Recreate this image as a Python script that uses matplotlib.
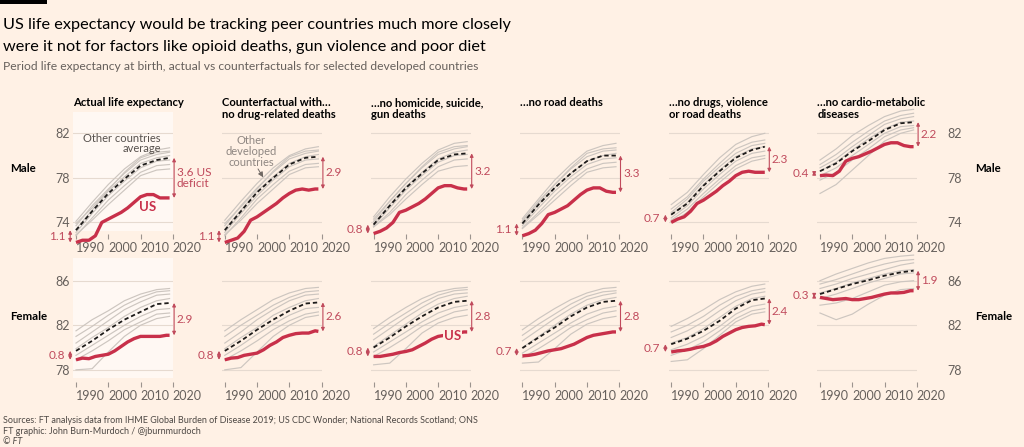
import matplotlib
matplotlib.use('Agg')
import matplotlib.pyplot as plt
from matplotlib.patches import Rectangle

plt.rcParams['font.family'] = ['Lato', 'DejaVu Sans']

# ---------------- data ----------------
YEARS_US = [1990, 1992, 1994, 1996, 1998, 2000, 2002, 2004, 2006, 2008, 2010, 2012, 2014, 2016, 2018, 2019]
YEARS_PEER = [1990, 1995, 2000, 2005, 2010, 2015, 2019]
XTICKS = [1990, 2000, 2010, 2020]

PANEL_TITLES = [
    ["Actual life expectancy"],
    ["Counterfactual with\u2026", "no drug-related deaths"],
    ["\u2026no homicide, suicide,", "gun deaths"],
    ["\u2026no road deaths"],
    ["\u2026no drugs, violence", "or road deaths"],
    ["\u2026no cardio-metabolic", "diseases"],
]
ROW_LABELS = ["Male", "Female"]

us_male = [
    [72.2, 72.4, 72.4, 72.8, 74.0, 74.3, 74.6, 74.9, 75.3, 75.8, 76.3, 76.5, 76.5, 76.2, 76.2, 76.2],
    [72.2, 72.4, 72.6, 73.2, 74.2, 74.5, 74.9, 75.3, 75.7, 76.2, 76.6, 76.9, 77.0, 76.9, 77.0, 77.0],
    [73.0, 73.2, 73.5, 74.0, 74.9, 75.1, 75.4, 75.7, 76.1, 76.6, 77.1, 77.3, 77.3, 77.1, 77.0, 77.0],
    [72.8, 73.0, 73.3, 73.9, 74.7, 74.9, 75.2, 75.5, 76.0, 76.5, 76.9, 77.1, 77.1, 76.8, 76.7, 76.7],
    [74.0, 74.3, 74.5, 75.0, 75.7, 76.0, 76.4, 76.8, 77.3, 77.7, 78.2, 78.5, 78.6, 78.5, 78.5, 78.5],
    [78.2, 78.25, 78.2, 78.6, 79.5, 79.75, 79.9, 80.15, 80.4, 80.7, 81.0, 81.15, 81.15, 80.9, 80.8, 80.8],
]
us_female = [
    [78.9, 79.05, 79.0, 79.2, 79.3, 79.4, 79.7, 80.1, 80.5, 80.8, 81.0, 81.0, 81.0, 81.0, 81.1, 81.1],
    [78.9, 79.05, 79.1, 79.3, 79.4, 79.5, 79.8, 80.2, 80.5, 80.9, 81.1, 81.25, 81.3, 81.3, 81.5, 81.45],
    [79.2, 79.2, 79.3, 79.4, 79.55, 79.65, 79.8, 80.1, 80.4, 80.75, 81.0, 81.1, 81.2, 81.3, 81.4, 81.4],
    [79.25, 79.3, 79.4, 79.55, 79.7, 79.8, 79.9, 80.1, 80.3, 80.6, 80.9, 81.1, 81.2, 81.3, 81.4, 81.4],
    [79.6, 79.7, 79.75, 79.85, 80.0, 80.1, 80.3, 80.6, 81.0, 81.3, 81.6, 81.8, 81.9, 81.95, 82.1, 82.05],
    [84.5, 84.4, 84.3, 84.35, 84.4, 84.3, 84.3, 84.4, 84.5, 84.65, 84.8, 84.9, 84.9, 84.95, 85.1, 85.1],
]

avg_male = [
    [73.3, 75.0, 76.6, 77.9, 79.1, 79.6, 79.8],
    [73.3, 75.0, 76.7, 78.0, 79.2, 79.8, 79.9],
    [73.8, 75.5, 77.1, 78.4, 79.6, 80.1, 80.2],
    [73.9, 75.6, 77.1, 78.4, 79.5, 80.0, 80.0],
    [74.7, 75.7, 77.3, 78.6, 79.8, 80.5, 80.8],
    [78.6, 79.3, 80.4, 81.3, 82.3, 82.9, 83.0],
]
avg_female = [
    [79.7, 80.6, 81.6, 82.5, 83.2, 83.9, 84.0],
    [79.7, 80.6, 81.6, 82.5, 83.3, 83.95, 84.05],
    [80.0, 80.9, 81.9, 82.8, 83.6, 84.1, 84.2],
    [79.95, 80.9, 81.8, 82.8, 83.6, 84.1, 84.2],
    [80.3, 80.8, 81.5, 82.4, 83.5, 84.25, 84.4],
    [84.8, 85.25, 85.7, 86.05, 86.45, 86.75, 86.9],
]

peers_male_1 = [
    [74.1, 75.8, 77.4, 78.8, 79.9, 80.5, 80.7],
    [73.9, 75.3, 76.9, 78.5, 79.8, 80.3, 80.4],
    [73.7, 75.5, 77.0, 78.4, 79.6, 80.1, 80.3],
    [73.4, 75.1, 76.8, 78.1, 79.3, 79.8, 80.0],
    [73.1, 74.8, 76.4, 77.7, 78.9, 79.5, 79.6],
    [72.8, 74.4, 76.0, 77.3, 78.5, 79.1, 79.2],
    [72.9, 74.2, 75.6, 76.9, 78.2, 78.7, 78.8],
]
peers_male_2 = [
    [74.2, 75.9, 77.5, 78.9, 80.0, 80.6, 80.8],
    [73.9, 75.4, 77.0, 78.6, 79.9, 80.4, 80.5],
    [73.7, 75.5, 77.1, 78.5, 79.7, 80.2, 80.4],
    [73.4, 75.1, 76.8, 78.1, 79.3, 79.9, 80.1],
    [73.1, 74.8, 76.4, 77.8, 79.0, 79.6, 79.7],
    [72.8, 74.4, 76.1, 77.4, 78.6, 79.2, 79.3],
    [72.9, 74.2, 75.7, 77.0, 78.3, 78.9, 79.0],
]
peers_male_3 = [
    [74.5, 76.3, 77.9, 79.3, 80.5, 81.1, 81.25],
    [74.3, 75.9, 77.5, 79.0, 80.3, 80.8, 80.9],
    [74.1, 75.9, 77.5, 78.9, 80.1, 80.6, 80.8],
    [73.9, 75.6, 77.2, 78.5, 79.7, 80.3, 80.5],
    [73.7, 75.3, 76.9, 78.2, 79.4, 80.0, 80.1],
    [73.6, 74.9, 76.5, 77.8, 79.0, 79.6, 79.7],
    [73.6, 74.7, 76.1, 77.4, 78.6, 79.0, 79.1],
]
peers_male_4 = [
    [74.35, 76.1, 77.8, 79.2, 80.4, 80.9, 81.1],
    [74.2, 75.8, 77.4, 78.9, 80.2, 80.6, 80.7],
    [74.1, 75.9, 77.4, 78.8, 79.9, 80.4, 80.5],
    [73.9, 75.6, 77.1, 78.4, 79.5, 80.0, 80.2],
    [73.7, 75.3, 76.8, 78.1, 79.2, 79.7, 79.8],
    [73.5, 74.9, 76.4, 77.7, 78.8, 79.3, 79.4],
    [73.45, 74.7, 76.0, 77.3, 78.5, 78.9, 79.0],
]
peers_male_5 = [
    [75.6, 76.7, 78.3, 79.8, 81.0, 81.7, 82.0],
    [75.2, 76.3, 77.9, 79.3, 80.6, 81.2, 81.4],
    [74.9, 76.1, 77.7, 79.0, 80.2, 80.9, 81.1],
    [74.7, 75.8, 77.4, 78.7, 79.9, 80.6, 80.8],
    [74.4, 75.5, 77.0, 78.3, 79.5, 80.2, 80.4],
    [74.2, 75.2, 76.6, 77.9, 79.1, 79.8, 80.0],
    [74.0, 74.9, 76.3, 77.6, 78.8, 79.5, 79.75],
]
peers_male_6 = [
    [79.6, 80.6, 81.8, 82.7, 83.5, 84.0, 84.15],
    [79.2, 80.1, 81.2, 82.2, 83.1, 83.6, 83.8],
    [78.9, 79.7, 80.8, 81.8, 82.8, 83.3, 83.5],
    [78.6, 79.4, 80.5, 81.5, 82.4, 83.0, 83.1],
    [78.2, 78.9, 80.0, 81.0, 82.0, 82.6, 82.7],
    [77.8, 78.5, 79.6, 80.6, 81.7, 82.3, 82.5],
    [76.6, 77.4, 78.7, 80.0, 81.3, 82.0, 82.3],
]
peers_female_1 = [
    [81.5, 82.5, 83.3, 84.2, 84.8, 85.2, 85.3],
    [81.0, 81.9, 82.9, 83.8, 84.5, 85.0, 85.1],
    [80.4, 81.4, 82.4, 83.4, 84.1, 84.7, 84.8],
    [79.9, 80.9, 81.8, 82.8, 83.6, 84.2, 84.4],
    [79.3, 80.2, 81.1, 82.0, 82.8, 83.4, 83.5],
    [78.9, 79.7, 80.6, 81.6, 82.3, 83.0, 83.1],
    [78.0, 78.1, 79.6, 81.0, 82.0, 82.6, 82.8],
]
peers_female_2 = [
    [81.5, 82.5, 83.4, 84.3, 84.9, 85.3, 85.4],
    [81.0, 82.0, 82.9, 83.8, 84.5, 85.0, 85.1],
    [80.4, 81.4, 82.5, 83.4, 84.2, 84.7, 84.8],
    [79.9, 80.9, 81.8, 82.9, 83.6, 84.2, 84.4],
    [79.3, 80.2, 81.2, 82.1, 82.9, 83.5, 83.6],
    [78.9, 79.7, 80.6, 81.6, 82.4, 83.0, 83.2],
    [78.0, 78.2, 79.6, 81.0, 82.0, 82.7, 82.9],
]
peers_female_3 = [
    [81.7, 82.7, 83.6, 84.4, 85.0, 85.3, 85.4],
    [81.2, 82.2, 83.1, 84.0, 84.7, 85.1, 85.2],
    [80.7, 81.7, 82.7, 83.6, 84.4, 84.8, 84.9],
    [80.1, 81.1, 82.1, 83.1, 83.9, 84.4, 84.6],
    [79.6, 80.5, 81.4, 82.3, 83.1, 83.6, 83.8],
    [79.2, 80.0, 80.9, 81.9, 82.6, 83.2, 83.4],
    [78.45, 78.6, 79.9, 81.3, 82.2, 82.7, 82.9],
]
peers_female_4 = [
    [81.6, 82.6, 83.5, 84.3, 84.9, 85.3, 85.4],
    [81.1, 82.1, 83.0, 83.9, 84.6, 85.0, 85.1],
    [80.6, 81.6, 82.6, 83.5, 84.3, 84.7, 84.9],
    [80.0, 81.0, 82.0, 83.0, 83.8, 84.3, 84.5],
    [79.5, 80.4, 81.3, 82.2, 83.0, 83.5, 83.7],
    [79.1, 79.9, 80.8, 81.8, 82.5, 83.1, 83.3],
    [78.6, 78.7, 79.9, 81.2, 82.1, 82.6, 82.8],
]
peers_female_5 = [
    [81.9, 82.6, 83.4, 84.3, 85.0, 85.5, 85.7],
    [81.4, 82.0, 82.8, 83.8, 84.6, 85.1, 85.3],
    [80.9, 81.5, 82.3, 83.3, 84.2, 84.8, 85.0],
    [80.4, 80.9, 81.7, 82.7, 83.7, 84.4, 84.6],
    [79.8, 80.3, 81.0, 81.9, 83.0, 83.7, 83.9],
    [79.3, 79.8, 80.5, 81.5, 82.6, 83.3, 83.5],
    [78.75, 78.9, 79.9, 81.1, 82.3, 83.0, 83.2],
]
peers_female_6 = [
    [86.0, 86.6, 87.1, 87.6, 88.0, 88.2, 88.3],
    [85.7, 86.1, 86.6, 87.1, 87.5, 87.8, 87.9],
    [85.3, 85.7, 86.2, 86.6, 87.0, 87.4, 87.6],
    [84.9, 85.3, 85.8, 86.2, 86.6, 86.9, 87.0],
    [84.4, 84.8, 85.3, 85.8, 86.2, 86.6, 86.7],
    [83.8, 84.0, 84.4, 85.0, 85.6, 85.9, 86.0],
    [83.1, 82.5, 83.0, 83.9, 84.7, 85.2, 85.3],
]
peers_male = [peers_male_1, peers_male_2, peers_male_3, peers_male_4, peers_male_5, peers_male_6]
peers_female = [peers_female_1, peers_female_2, peers_female_3, peers_female_4, peers_female_5, peers_female_6]

gap_start_male = ["1.1", "1.1", "0.8", "1.1", "0.7", "0.4"]
gap_end_male = ["3.6 US\ndeficit", "2.9", "3.2", "3.3", "2.3", "2.2"]
gap_start_female = ["0.8", "0.8", "0.8", "0.7", "0.7", "0.3"]
gap_end_female = ["2.9", "2.6", "2.8", "2.8", "2.4", "1.9"]

# ---------------- style ----------------
BG = '#fff1e5'
HL = '#fff8f3'
GRID = '#e6dad0'
PEER = '#cdc6c0'
AVG = '#1d1b1a'
USC = '#c8304a'
ANN = '#c04a5c'
TXT = '#66605c'

W, H = 1024, 447
fig = plt.figure(figsize=(W / 100, H / 100), dpi=100)
fig.patch.set_facecolor(BG)
renderer = fig.canvas.get_renderer()


def fx(px):
    return px / W


def fy(py):
    return 1 - py / H


def fit_width(t, target_px):
    bb = t.get_window_extent(renderer=renderer)
    t.set_fontsize(t.get_fontsize() * target_px / bb.width)
    return t.get_fontsize()


# top black bar
fig.patches.append(Rectangle((0, fy(3.5)), fx(47), 3.5 / H, transform=fig.transFigure,
                             facecolor='black', edgecolor='none'))

t1 = fig.text(fx(3), fy(28.5), "US life expectancy would be tracking peer countries much more closely",
              fontsize=14, color='black', va='baseline', ha='left')
fs_title = fit_width(t1, 509)
fig.text(fx(3), fy(51), "were it not for factors like opioid deaths, gun violence and poor diet",
         fontsize=fs_title, color='black', va='baseline', ha='left')
st = fig.text(fx(3), fy(70.5), "Period life expectancy at birth, actual vs counterfactuals for selected developed countries",
              fontsize=9, color=TXT, va='baseline', ha='left')
fit_width(st, 479)

f1 = fig.text(fx(3), fy(423), "Sources: FT analysis data from IHME Global Burden of Disease 2019; US CDC Wonder; National Records Scotland; ONS",
              fontsize=7, color='#4e4945', va='baseline', ha='left')
fs_foot = fit_width(f1, 477)
fig.text(fx(3), fy(433.5), "FT graphic: John Burn-Murdoch / @jburnmurdoch", fontsize=fs_foot,
         color='#4e4945', va='baseline', ha='left')
fig.text(fx(3), fy(444), "\u00a9 FT", fontsize=fs_foot, color='#4e4945', va='baseline',
         ha='left', style='italic')

# layout constants (pixels)
X1990 = 76.0
COLSTEP = 148.8
PXYR = 3.227
PXU = 11.14
XL = (1989.2, 2020.2)
ROWS = [
    dict(ylim=(71.8, 84.3), ref=82, ref_px=133.3, yt=[74, 78, 82], spine=73.0,
         us=us_male, avg=avg_male, peers=peers_male, gs=gap_start_male, ge=gap_end_male,
         hl=(73.2, 83.9), label_y=171.5),
    dict(ylim=(76.5, 88.6), ref=86, ref_px=280.7, yt=[78, 82, 86], spine=76.95,
         us=us_female, avg=avg_female, peers=peers_female, gs=gap_start_female, ge=gap_end_female,
         hl=(77.3, 88.0), label_y=319.5),
]

# column titles
ct = fig.text(fx(X1990 - 2.6), fy(106), PANEL_TITLES[0][0], fontsize=8, fontweight='bold',
              color='black', va='baseline', ha='left')
fs_ct = fit_width(ct, 112)
for c in range(1, 6):
    for k, line in enumerate(PANEL_TITLES[c]):
        fig.text(fx(X1990 + COLSTEP * c - 2.6), fy(106 + 11.5 * k), line, fontsize=fs_ct,
                 fontweight='bold', color='black', va='baseline', ha='left')

# row labels
rl = fig.text(fx(10), fy(ROWS[1]['label_y']), ROW_LABELS[1], fontsize=9, fontweight='bold',
              color='black', va='baseline', ha='left')
fs_rl = fit_width(rl, 37)
fig.text(fx(10), fy(ROWS[0]['label_y']), ROW_LABELS[0], fontsize=fs_rl, fontweight='bold',
         color='black', va='baseline', ha='left')
for r in range(2):
    fig.text(fx(975), fy(ROWS[r]['label_y']), ROW_LABELS[r], fontsize=fs_rl, fontweight='bold',
             color='black', va='baseline', ha='left')

arrow_kw = dict(arrowstyle='<|-|>,head_length=0.2,head_width=0.1', color=ANN, lw=0.8,
                shrinkA=0, shrinkB=0)

for r, row in enumerate(ROWS):
    ylo, yhi = row['ylim']
    top_px = row['ref_px'] - (yhi - row['ref']) * PXU
    hpx = (yhi - ylo) * PXU
    for c in range(6):
        x0 = X1990 + COLSTEP * c - (1990 - XL[0]) * PXYR
        wpx = (XL[1] - XL[0]) * PXYR
        ax = fig.add_axes([fx(x0), fy(top_px + hpx), wpx / W, hpx / H])
        ax.set_facecolor('none')
        ax.set_xlim(*XL)
        ax.set_ylim(ylo, yhi)
        for s in ['top', 'left', 'right']:
            ax.spines[s].set_visible(False)
        ax.spines['bottom'].set_position(('data', row['spine']))
        ax.spines['bottom'].set_visible(False)
        ax.set_xticks(XTICKS)
        ax.set_xticklabels([str(v) for v in XTICKS], ha='left')
        ax.tick_params(axis='x', length=3.3, width=0.8, color='#9c948e', labelsize=9,
                       labelcolor=TXT, pad=2.5)
        ax.set_yticks(row['yt'])
        ax.set_yticklabels([str(v) for v in row['yt']])
        ax.tick_params(axis='y', length=0, labelsize=9, labelcolor=TXT)
        if c == 0:
            ax.tick_params(axis='y', pad=2.4)
        elif c == 5:
            ax.yaxis.tick_right()
            ax.tick_params(axis='y', length=0, pad=21.3)
        else:
            ax.tick_params(axis='y', labelleft=False)
        ax.grid(axis='y', color=GRID, lw=0.8)
        ax.set_axisbelow(True)

        if c == 0:
            ax.add_patch(Rectangle((XL[0], row['hl'][0]), XL[1] - XL[0], row['hl'][1] - row['hl'][0],
                                   facecolor=HL, edgecolor='none', zorder=0))

        for p in row['peers'][c]:
            ax.plot(YEARS_PEER, p, color=PEER, lw=0.85, zorder=2, clip_on=False)
        avg = row['avg'][c]
        ax.plot(YEARS_PEER, avg, color=AVG, lw=1.3, dashes=(2.4, 1.6), zorder=3, clip_on=False)
        us = row['us'][c]
        ax.plot(YEARS_US, us, color=USC, lw=2.4, zorder=4, solid_capstyle='butt', clip_on=False)

        # start gap
        ax.annotate('', xy=(1988.2, avg[0]), xytext=(1988.2, us[0]), arrowprops=arrow_kw,
                    annotation_clip=False)
        ax.text(1986.7, (avg[0] + us[0]) / 2, row['gs'][c], ha='right', va='center',
                fontsize=8.5, color=ANN, clip_on=False)
        # end gap
        ax.annotate('', xy=(2020.4, avg[-1]), xytext=(2020.4, us[-1]), arrowprops=arrow_kw,
                    annotation_clip=False)
        ax.text(2021.2, (avg[-1] + us[-1]) / 2, row['ge'][c], ha='left', va='center',
                fontsize=8.5, color=ANN, clip_on=False, linespacing=1.0)

        if r == 0 and c == 0:
            ax.text(2016.3, 81.26, "Other countries", ha='right', va='baseline', fontsize=8,
                    color='#57514d', zorder=5)
            ax.text(2016.3, 80.32, "average", ha='right', va='baseline', fontsize=8,
                    color='#57514d', zorder=5)
            ax.text(2012.3, 75.4, "US", ha='center', va='center', fontsize=9.5,
                    fontweight='bold', color=USC, zorder=5)
        if r == 0 and c == 1:
            for k, line in enumerate(["Other", "developed", "countries"]):
                ax.text(1998.1, 81.0 - 0.95 * k, line, ha='center', va='baseline', fontsize=8,
                        color='#8f8782', zorder=5)
            ax.annotate('', xy=(2001.9, 78.05), xytext=(2000.3, 78.8),
                        arrowprops=dict(arrowstyle='-|>,head_length=0.3,head_width=0.15',
                                        color='#6f6863', lw=0.7, shrinkA=0, shrinkB=0))
        if r == 1 and c == 2:
            ax.text(2014.5, 81.05, "US", ha='center', va='center', fontsize=9.5,
                    fontweight='bold', color=USC, zorder=6,
                    bbox=dict(boxstyle='square,pad=0.05', facecolor=BG, edgecolor='none'))

fig.savefig('out.png', dpi=100, facecolor=BG)
